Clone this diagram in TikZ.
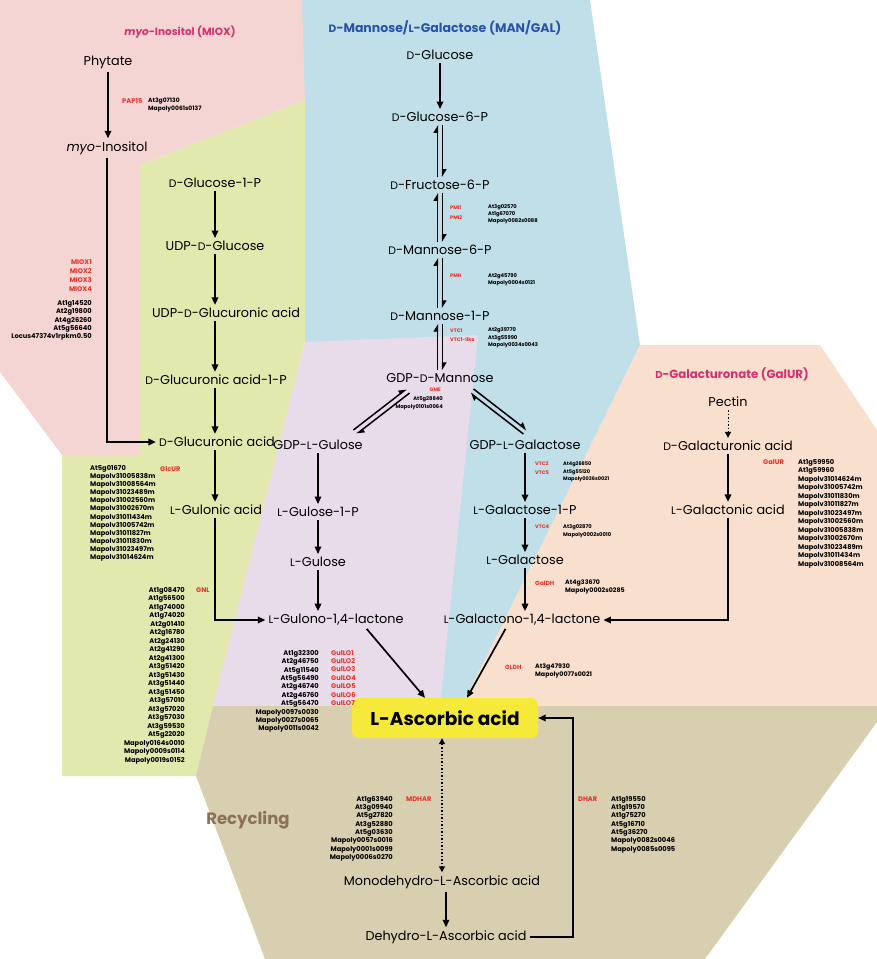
\documentclass[tikz,border=0pt]{standalone}
\usepackage{fontspec}
\usepackage{graphicx}
\setmainfont{Poppins}
\usetikzlibrary{arrows.meta,calc}
\definecolor{cpink}{RGB}{245,213,211}
\definecolor{cgreen}{RGB}{226,233,174}
\definecolor{cblue}{RGB}{192,223,233}
\definecolor{clilac}{RGB}{232,219,234}
\definecolor{csalmon}{RGB}{249,223,206}
\definecolor{cbrown}{RGB}{215,207,176}
\definecolor{cyellow}{RGB}{245,233,58}
\definecolor{enzred}{RGB}{225,50,40}
\definecolor{tmagenta}{RGB}{212,48,110}
\definecolor{tblue}{RGB}{40,84,168}
\definecolor{tbrown}{RGB}{140,112,88}
\newcommand\sD{\scalebox{0.85}{D}}
\newcommand\sL{\scalebox{0.85}{L}}
\tikzset{
  lbl/.style={font=\fontsize{12.8}{14}\selectfont, inner sep=3pt},
  ttl/.style={font=\fontsize{10.5}{12}\selectfont\bfseries, inner sep=1pt},
  gene/.style={font=\fontsize{6.7}{8.4}\selectfont\bfseries, inner sep=0pt, align=left},
  gener/.style={gene, align=right},
  sgene/.style={font=\fontsize{5}{6}\selectfont\bfseries, inner sep=0pt, align=left},
  enz/.style={gene, text=enzred},
  senz/.style={sgene, text=enzred},
  arr/.style={line width=1.7pt, -{Triangle[length=7.5pt,width=6.5pt]}},
  harp/.style={line width=1.5pt, -{Triangle[length=6.5pt,width=7.5pt,left]}},
  dotarr/.style={line width=1.5pt, dash pattern=on 1.5pt off 2pt, -{Triangle[length=6pt,width=6pt]}}
}
\begin{document}
\begin{tikzpicture}[x=1pt,y=-1pt]
\useasboundingbox (0,0) rectangle (877,959);
% background regions
\fill[cblue] (302,0) -- (590,0) -- (640,345) -- (470,712) -- (430,712) -- (305,342) -- cycle;
\fill[cpink] (0,0) -- (302,0) -- (305,100) -- (140,165) -- (140,455) -- (62,455) -- (0,372) -- cycle;
\fill[cgreen] (140,165) -- (305,100) -- (305,342) -- (196,776) -- (62,776) -- (62,455) -- (140,455) -- cycle;
\fill[clilac] (305,342) -- (478,335) -- (440,706) -- (213,706) -- cycle;
\fill[csalmon] (640,345) -- (820,345) -- (877,430) -- (877,706) -- (462,706) -- cycle;
\fill[cbrown] (213,706) -- (877,706) -- (877,722) -- (705,959) -- (265,959) -- (196,776) -- cycle;

% titles
\node[ttl, text=tmagenta] (t1) at (180,32) {\textit{myo}-Inositol (MIOX)};
\node[ttl, text=tblue, font=\fontsize{12.5}{14}\selectfont\bfseries] (t2) at (445,28) {\sD-Mannose/\sL-Galactose (MAN/GAL)};
\node[ttl, text=tmagenta, font=\fontsize{11.8}{14}\selectfont\bfseries] (t3) at (732,374) {\sD-Galacturonate (GalUR)};
\node[font=\fontsize{16.5}{18}\selectfont\bfseries, text=tbrown] (t4) at (248,820) {Recycling};

% MIOX branch
\node[lbl] (phy) at (108,62) {Phytate};
\node[lbl] (myo) at (107,148) {\textit{myo}-Inositol};
% green branch
\node[lbl] (g1p) at (215,183) {\sD-Glucose-1-P};
\node[lbl] (udpg) at (215,246) {UDP-\sD-Glucose};
\node[lbl] (udpga) at (226,313) {UDP-\sD-Glucuronic acid};
\node[lbl] (ga1p) at (216,380) {\sD-Glucuronic acid-1-P};
\node[lbl] (ga) at (217,442) {\sD-Glucuronic acid};
\node[lbl] (gula) at (216,510) {\sL-Gulonic acid};
% blue branch
\node[lbl] (glc) at (440,55) {\sD-Glucose};
\node[lbl] (g6p) at (440,117) {\sD-Glucose-6-P};
\node[lbl] (f6p) at (440,185) {\sD-Fructose-6-P};
\node[lbl] (m6p) at (440,250) {\sD-Mannose-6-P};
\node[lbl] (m1p) at (440,316) {\sD-Mannose-1-P};
\node[lbl] (gdpm) at (440,378) {GDP-\sD-Mannose};
\node[lbl] (gdpgu) at (318,445) {GDP-\sL-Gulose};
\node[lbl] (gu1p) at (318,512) {\sL-Gulose-1-P};
\node[lbl] (gu) at (318,562) {\sL-Gulose};
\node[lbl] (gul) at (336,620) {\sL-Gulono-1,4-lactone};
\node[lbl] (gdpga) at (525,445) {GDP-\sL-Galactose};
\node[lbl] (ga1) at (525,510) {\sL-Galactose-1-P};
\node[lbl] (gal) at (525,560) {\sL-Galactose};
\node[lbl] (gall) at (522,620) {\sL-Galactono-1,4-lactone};
% GalUR
\node[lbl] (pec) at (728,402) {Pectin};
\node[lbl] (gaa) at (728,446) {\sD-Galacturonic acid};
\node[lbl] (gna) at (728,510) {\sL-Galactonic acid};
% ascorbate
\node[fill=cyellow, rounded corners=7pt, minimum width=186pt, minimum height=40pt,
      font=\fontsize{18.5}{20}\selectfont\bfseries] (asc) at (445,718) {L-Ascorbic acid};
\node[lbl] (mdha) at (442,882) {Monodehydro-L-Ascorbic acid};
\node[lbl] (dha) at (446,937) {Dehydro-L-Ascorbic acid};

% arrows
\draw[arr] (phy.south) -- (phy.south |- myo.north);
\draw[arr] (myo.south) |- (ga.west);
\draw[arr] (g1p.south) -- (udpg.north);
\draw[arr] (udpg.south) -- (udpg.south |- udpga.north);
\draw[arr] (udpga.south -| udpg.south) -- (udpg.south |- ga1p.north);
\draw[arr] (udpg.south |- ga1p.south) -- (udpg.south |- ga.north);
\draw[arr] (udpg.south |- ga.south) -- (udpg.south |- gula.north);
\draw[arr] (udpg.south |- gula.south) |- (gul.west);

\draw[arr] (glc.south) -- (g6p.north);
\foreach \a/\b in {g6p/f6p, f6p/m6p, m6p/m1p, m1p/gdpm}{
  \draw[harp] ([xshift=-2.7pt]\b.north) -- ([xshift=-2.7pt]\a.south);
  \draw[harp] ([xshift=2.7pt]\a.south) -- ([xshift=2.7pt]\b.north);
}
\coordinate (la) at (408,391); \coordinate (lb) at (355,432);
\coordinate (ra) at (472,391); \coordinate (rb) at (525,432);
\draw[harp] ($(lb)+(-1.6,-2)$) -- ($(la)+(-1.6,-2)$);
\draw[harp] ($(la)+(1.6,2)$) -- ($(lb)+(1.6,2)$);
\draw[harp] ($(rb)+(-1.6,2)$) -- ($(ra)+(-1.6,2)$);
\draw[harp] ($(ra)+(1.6,-2)$) -- ($(rb)+(1.6,-2)$);

\draw[arr] (gdpgu.south) -- (gu1p.north);
\draw[arr] (gu1p.south) -- (gu.north);
\draw[arr] (gu.south) -- (gu.south |- gul.north);
\draw[arr] (gdpga.south) -- (ga1.north);
\draw[arr] (ga1.south) -- (gal.north);
\draw[arr] (gal.south) -- (gal.south |- gall.north);

\draw[dotarr, line width=1pt] (pec.south) -- (gaa.north);
\draw[arr] (gaa.south) -- (gna.north);
\draw[arr] (gna.south) |- (gall.east);

\draw[arr] ($(gul.south east)+(-40,0)$) -- ($(asc.north)+(-20,0)$);
\draw[arr] ($(gall.south west)+(65,0)$) -- ($(asc.north)+(22,0)$);
\draw[dotarr, {Triangle[length=6pt,width=6pt]}-{Triangle[length=6pt,width=6pt]}] ([xshift=-3pt]asc.south) -- ([xshift=-3pt]asc.south |- mdha.north);
\draw[arr] (mdha.south -| dha.north) -- (dha.north);
\draw[arr] (dha.east) -| ($(asc.east)+(35,0)$) -- (asc.east);

% enzyme and gene labels
\node[enz, anchor=west] (pap) at (122,101) {PAP15};
\node[gene, anchor=north west, font=\fontsize{6}{8}\selectfont\bfseries] (papg) at (148,97.5) {At3g07130\\Mapoly0061s0137};

\node[enz, align=right, anchor=north east, font=\fontsize{6.7}{9}\selectfont\bfseries] (miox) at (92,259) {MIOX1\\MIOX2\\MIOX3\\MIOX4};
\node[gener, anchor=north east] (mioxg) at (92,300) {At1g14520\\At2g19800\\At4g26260\\At5g56640\\Locus47374v1rpkm0.50};

\node[enz, anchor=west] (glcur) at (160,469) {GlcUR};
\node[gene, anchor=north west, font=\fontsize{6.7}{8.15}\selectfont\bfseries] (glcurg) at (90,465) {At5g01670\\Mapolv31005838m\\Mapolv31008564m\\Mapolv31023489m\\Mapolv31002560m\\Mapolv31002670m\\Mapolv31011434m\\Mapolv31005742m\\Mapolv31011827m\\Mapolv31011830m\\Mapolv31023497m\\Mapolv31014624m};

\node[enz, anchor=west] (gnl) at (196,590) {GNL};
\node[gener, anchor=north east, font=\fontsize{6.7}{8.5}\selectfont\bfseries] (gnlg) at (185,587) {At1g08470\\At1g56500\\At1g74000\\At1g74020\\At2g01410\\At2g16780\\At2g24130\\At2g41290\\At2g41300\\At3g51420\\At3g51430\\At3g51440\\At3g51450\\At3g57010\\At3g57020\\At3g57030\\At3g59530\\At5g22020\\Mapoly0164s0010\\Mapoly0009s0114\\Mapoly0019s0152};

\node[senz, anchor=north west, font=\fontsize{5}{10}\selectfont\bfseries] (pmi) at (450,205.5) {PMI1\\PMI2};
\node[sgene, anchor=north west, font=\fontsize{5.2}{7}\selectfont\bfseries] (pmig) at (488,204.5) {At3g02570\\At1g67070\\Mapoly0082s0088};
\node[senz, anchor=west] (pmh) at (450,276) {PMH};
\node[sgene, anchor=north west, font=\fontsize{5.2}{7.5}\selectfont\bfseries] (pmhg) at (488,273) {At2g45790\\Mapoly0004s0121};
\node[senz, anchor=north west, font=\fontsize{5}{9}\selectfont\bfseries] (vtc1) at (450,328.5) {VTC1\\VTC1-like};
\node[sgene, anchor=north west, font=\fontsize{5.2}{7.5}\selectfont\bfseries] (vtc1g) at (488,327.5) {At2g39770\\At3g55990\\Mapoly0034s0043};

\node[senz, anchor=east] (gme) at (441,390) {GME};
\node[sgene, align=right, anchor=north east, font=\fontsize{5.2}{8}\selectfont\bfseries] (gmeg) at (443,396) {At5g28840\\Mapoly0101s0064};

\node[senz, anchor=north west, font=\fontsize{5}{9}\selectfont\bfseries] (vtc2) at (535,462) {VTC2\\VTC5};
\node[sgene, anchor=north west, font=\fontsize{5}{7.5}\selectfont\bfseries] (vtc2g) at (563,462) {At4g26850\\At5g55120\\Mapoly0036s0021};
\node[senz, anchor=west] (vtc4) at (535,527) {VTC4};
\node[sgene, anchor=north west, font=\fontsize{5.2}{8}\selectfont\bfseries] (vtc4g) at (563,524) {At3g02870\\Mapoly0002s0010};

\node[enz, anchor=west, font=\fontsize{6}{8}\selectfont\bfseries] (galdh) at (535,583) {GalDH};
\node[gene, anchor=north west, font=\fontsize{6.3}{7.5}\selectfont\bfseries] (galdhg) at (565,580) {At4g33670\\Mapoly0002s0285};
\node[enz, anchor=west, font=\fontsize{6}{8}\selectfont\bfseries] (gldh) at (505,667) {GLDH};
\node[gene, anchor=north west, font=\fontsize{6.3}{8}\selectfont\bfseries] (gldhg) at (535,664) {At3g47930\\Mapoly0077s0021};

\node[gener, anchor=north east, font=\fontsize{6.7}{8.4}\selectfont\bfseries] (gullog) at (319,650) {At1g32300\\At2g46750\\At5g11540\\At5g56490\\At2g46740\\At2g46760\\At5g56470\\Mapoly0097s0030\\Mapoly0027s0065\\Mapoly0011s0042};
\node[enz, anchor=north west, font=\fontsize{6.7}{8.4}\selectfont\bfseries] (gullo) at (331,650) {GulLO1\\GulLO2\\GulLO3\\GulLO4\\GulLO5\\GulLO6\\GulLO7};

\node[enz, anchor=west] (galur) at (763,462) {GalUR};
\node[gene, anchor=north west, font=\fontsize{6.7}{8.5}\selectfont\bfseries] (galurg) at (798,459) {At1g59950\\At1g59960\\Mapolv31014624m\\Mapolv31005742m\\Mapolv31011830m\\Mapolv31011827m\\Mapolv31023497m\\Mapolv31002560m\\Mapolv31005838m\\Mapolv31002670m\\Mapolv31023489m\\Mapolv31011434m\\Mapolv31008564m};

\node[enz, anchor=west] (mdhar) at (406,799) {MDHAR};
\node[gener, anchor=north east, font=\fontsize{6.7}{8.3}\selectfont\bfseries] (mdharg) at (393,796) {At1g63940\\At3g09940\\At5g27820\\At3g52880\\At5g03630\\Mapoly0057s0016\\Mapoly0001s0099\\Mapoly0006s0270};
\node[enz, anchor=west] (dhar) at (578,799) {DHAR};
\node[gene, anchor=north west, font=\fontsize{6.7}{8.3}\selectfont\bfseries] (dharg) at (611,796) {At1g19550\\At1g19570\\At1g75270\\At5g16710\\At5g36270\\Mapoly0082s0046\\Mapoly0085s0095};
\end{tikzpicture}
\end{document}
